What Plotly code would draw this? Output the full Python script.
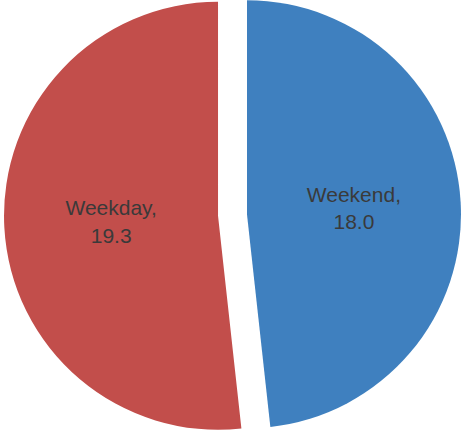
import math
import plotly.graph_objects as go

# Data
categories = ["Weekend", "Weekday"]
values = [18.0, 19.3]
colors = ["#3F80BF", "#C24E4B"]

# Layout constants (pixels)
W, H = 464, 441
R = 214.0          # pie radius
CX, CY = 232.5, 215.0  # pie centre (screen coords, y down)
PULL_PX = 14.5     # explode distance of each slice

total = sum(values)
fig = go.Figure()
cum = 0.0
for i, (cat, val) in enumerate(zip(categories, values)):
    frac = val / total
    mid = (cum + frac / 2) * 2 * math.pi  # clockwise from 12 o'clock
    cum += frac
    cx = CX + PULL_PX * math.sin(mid)
    cy = CY - PULL_PX * math.cos(mid)
    dom_x = [max(0, (cx - R) / W), min(1, (cx + R) / W)]
    dom_y = [max(0, 1 - (cy + R) / H), min(1, 1 - (cy - R) / H)]
    slice_colors = [c if j == i else "rgba(0,0,0,0)" for j, c in enumerate(colors)]
    tmpl = ["%{label},<br>%{value:.1f}" if j == i else "" for j in range(len(values))]
    fig.add_trace(go.Pie(
        labels=categories,
        values=values,
        sort=False,
        direction="clockwise",
        rotation=0,
        domain=dict(x=dom_x, y=dom_y),
        marker=dict(colors=slice_colors, line=dict(width=0)),
        texttemplate=tmpl,
        textposition="inside",
        insidetextorientation="horizontal",
        textfont=dict(family="Liberation Sans, Arial, sans-serif", size=21, color="#3a3a3a"),
        hoverinfo="skip",
        showlegend=False,
    ))

fig.update_layout(
    width=W, height=H,
    margin=dict(l=0, r=0, t=0, b=0),
    paper_bgcolor="white",
    plot_bgcolor="white",
    showlegend=False,
)

fig.write_html("out.html")
